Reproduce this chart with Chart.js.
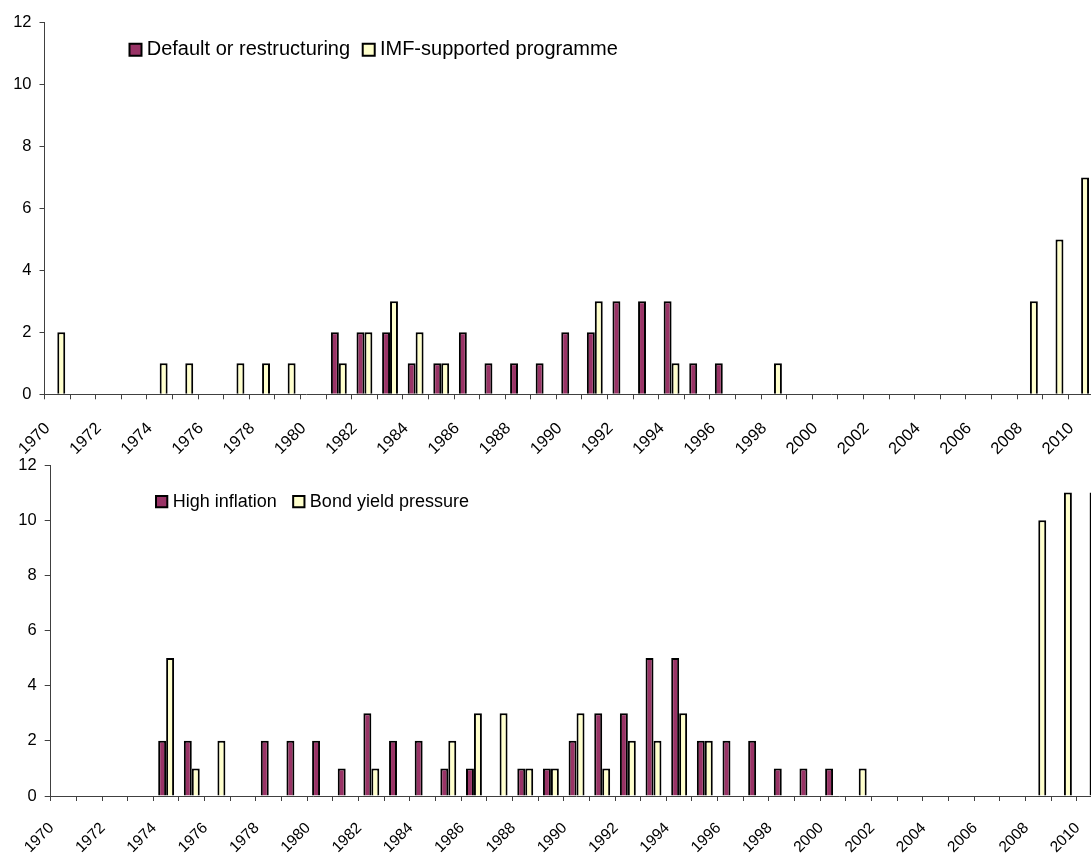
<!DOCTYPE html>
<html>
<head>
<meta charset="utf-8">
<script src="https://cdn.jsdelivr.net/npm/chart.js@4.4.0/dist/chart.umd.min.js"></script>
<style>
html, body { margin: 0; padding: 0; background: #ffffff; overflow: hidden; width: 1091px; height: 854px; }
canvas { position: absolute; left: 0; }
#c1 { top: 0px; }
#c2 { top: 430px; }
</style>
</head>
<body>
<canvas id="c1" width="1100" height="460"></canvas>
<canvas id="c2" width="1110" height="424"></canvas>
<script>
// ---- Data ----
const years = ['1970','1971','1972','1973','1974','1975','1976','1977','1978','1979',
               '1980','1981','1982','1983','1984','1985','1986','1987','1988','1989',
               '1990','1991','1992','1993','1994','1995','1996','1997','1998','1999',
               '2000','2001','2002','2003','2004','2005','2006','2007','2008','2009','2010'];
const shownTickLabels = ['1970','1972','1974','1976','1978','1980','1982','1984','1986','1988',
                         '1990','1992','1994','1996','1998','2000','2002','2004','2006','2008','2010'];
const yTickValues = [0, 2, 4, 6, 8, 10, 12];

// Top panel
const defaultRestructuring = [0,0,0,0,0, 0,0,0,0,0, 0,2,2,2,1, 1,2,1,1,1, 2,2,3,3,3, 1,1,0,0,0, 0,0,0,0,0, 0,0,0,0,0, 0];
const imfProgramme         = [2,0,0,0,1, 1,0,1,1,1, 0,1,2,3,2, 1,0,0,0,0, 0,3,0,0,1, 0,0,0,1,0, 0,0,0,0,0, 0,0,0,3,5, 7];
// Bottom panel
const highInflation        = [0,0,0,0,2, 2,0,0,2,2, 2,1,3,2,2, 1,1,0,1,1, 2,3,3,5,5, 2,2,2,1,1, 1,0,0,0,0, 0,0,0,0,0, 0];
const bondYieldPressure    = [0,0,0,0,5, 1,2,0,0,0, 0,0,1,0,0, 2,3,3,1,1, 3,1,2,2,3, 2,0,0,0,0, 0,1,0,0,0, 0,0,0,10,11, 11];

// ---- Styles ----
const PURPLE = '#993366';
const YELLOW = '#FFFFCC';
const AXIS = '#404040';
const FONT = "'Liberation Sans', Arial, sans-serif";

// Places the legend (one row) inside the plot area at a given spot
const legendPlacer = {
  id: 'legendPlacer',
  beforeLayout(chart) {
    if (chart.legend) chart.legend.isHorizontal = () => true;
  },
  afterLayout(chart, args, opts) {
    const lg = chart.legend;
    if (!lg) return;
    const pad = lg.options.labels.padding;
    const fs = lg.options.labels.font.size;
    lg.left = opts.x - pad;
    lg.right = lg.left + 2000;
    lg.width = 2000;
    lg.top = opts.y - pad - fs / 2;
    lg.bottom = lg.top + 200;
    lg.height = 200;
  }
};

function makeChart(id, cfg) {
  const labelsFor = (v, i) => (shownTickLabels.includes(years[i]) ? years[i] : '');
  return new Chart(document.getElementById(id), {
    type: 'bar',
    data: {
      labels: years,
      datasets: [
        { label: cfg.names[0], data: cfg.series[0], backgroundColor: PURPLE, borderColor: '#000000', borderWidth: 2,
          categoryPercentage: 0.62, barPercentage: 1.0 },
        { label: cfg.names[1], data: cfg.series[1], backgroundColor: YELLOW, borderColor: '#000000', borderWidth: 2,
          categoryPercentage: 0.62, barPercentage: 1.0 }
      ]
    },
    plugins: [legendPlacer],
    options: {
      responsive: false,
      animation: false,
      devicePixelRatio: 1,
      layout: { padding: { top: cfg.top, right: cfg.right, left: 0, bottom: 0 } },
      plugins: {
        tooltip: { enabled: false },
        legendPlacer: { x: cfg.legendX, y: cfg.legendY },
        legend: {
          display: true,
          position: 'chartArea',
          align: 'start',
          labels: {
            usePointStyle: true,
            pointStyle: 'rect',
            boxWidth: cfg.legendBoxW,
            boxHeight: cfg.legendBoxH,
            padding: cfg.legendPad,
            color: '#000000',
            font: { family: FONT, size: cfg.legendFont }
          }
        }
      },
      scales: {
        x: {
          offset: true,
          grid: { display: true, drawOnChartArea: false, drawTicks: true, tickLength: 5, offset: true, color: AXIS, lineWidth: 1 },
          border: { display: true, color: AXIS, width: 1 },
          ticks: {
            autoSkip: false, maxRotation: 45, minRotation: 45,
            padding: cfg.xPad, labelOffset: cfg.labelOffset,
            color: '#000000', font: { family: FONT, size: cfg.tickFont },
            callback: labelsFor
          },
          afterFit: (s) => { s.height = cfg.xHeight; s.paddingLeft = 0; s.paddingRight = 0; }
        },
        y: {
          min: 0, max: 12,
          afterBuildTicks: (s) => { s.ticks = yTickValues.map(v => ({ value: v })); },
          grid: { display: true, drawOnChartArea: false, drawTicks: true, tickLength: cfg.yTick, color: AXIS, lineWidth: 1 },
          border: { display: true, color: AXIS, width: 1 },
          ticks: { padding: 8, color: '#000000', font: { family: FONT, size: cfg.yFont } },
          afterFit: (s) => { s.width = cfg.yWidth; }
        }
      }
    }
  });
}

makeChart('c1', {
  names: ['Default or restructuring', 'IMF-supported programme'],
  series: [defaultRestructuring, imfProgramme],
  top: 22.5, right: 6.1, xHeight: 65.7, yWidth: 44.5, yTick: 5,
  tickFont: 16.5, yFont: 16.5, xPad: 19.5, labelOffset: -9.8,
  legendFont: 20, legendBoxW: 2.4, legendBoxH: 12, legendPad: 17.4,
  legendX: 134.3, legendY: 49.7
});

makeChart('c2', {
  names: ['High inflation', 'Bond yield pressure'],
  series: [highInflation, bondYieldPressure],
  top: 35, right: 7.6, xHeight: 58, yWidth: 50.7, yTick: 6,
  tickFont: 15.5, yFont: 16.5, xPad: 18, labelOffset: -12,
  legendFont: 18, legendBoxW: 4.1, legendBoxH: 11.3, legendPad: 20,
  legendX: 159.6, legendY: 71.7
});
</script>
</body>
</html>
